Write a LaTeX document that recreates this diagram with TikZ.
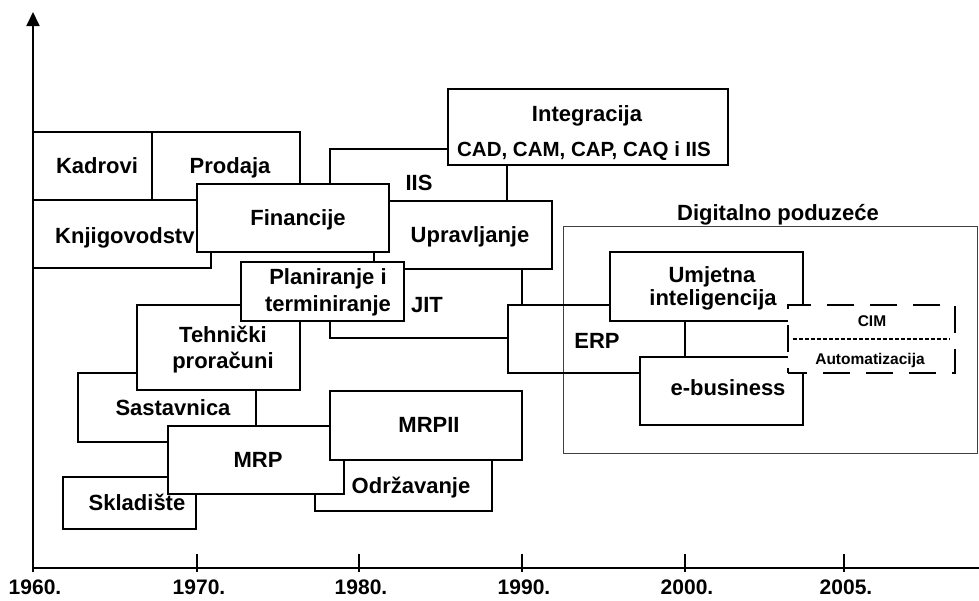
\documentclass[tikz,border=0pt]{standalone}
\usepackage{fontspec}
\setmainfont{Liberation Sans}
\usetikzlibrary{fit,arrows.meta}
\begin{document}
\begin{tikzpicture}[x=1pt,y=-1pt,
  box/.style={draw, line width=1.8pt, fill=white, inner sep=0pt, outer sep=0pt},
  frame/.style={draw=black!75, line width=1pt, inner sep=0pt, outer sep=0pt},
  dbox/.style={draw, line width=1.8pt, fill=white, inner sep=0pt, outer sep=0pt, dash pattern=on 27pt off 16pt, dash phase=8pt},
  lbl/.style={font=\fontsize{22}{26}\selectfont\bfseries, inner sep=0pt, anchor=base},
  yearl/.style={font=\fontsize{21}{24}\selectfont\bfseries, inner sep=0pt, anchor=base},
  sml/.style={font=\fontsize{20.5}{24}\selectfont\bfseries, inner sep=0pt, anchor=base},
  tinyl/.style={font=\fontsize{15.5}{18}\selectfont\bfseries, inner sep=0pt, anchor=base},
  conn/.style={line width=1.8pt},
  axisl/.style={line width=1.8pt},
  finedash/.style={line width=1.2pt, dash pattern=on 4pt off 2pt}
]
\useasboundingbox (0,0) rectangle (979,600);

% axes
\coordinate (o) at (33,572);
\coordinate (ytop) at (33,12);
\coordinate (xo) at (33,568);
\coordinate (xend) at (979,568);
\draw[axisl, -{Triangle[width=13pt,length=14pt]}] (o) -- (ytop);
\draw[axisl] (xo) -- (xend);
\foreach \x/\yr in {33/1960, 197/1970, 359/1980, 522/1990, 685/2000, 844/2005}{
  \draw[axisl] (\x,554) -- (\x,572);
  \node[yearl] at (\x+2,594) {\yr.};
}

% boxes, back to front
\node[box, fit={(33,132) (152,200)}] (kad) {};
\node[lbl] at (97,173) {Kadrovi};
\node[box, fit={(152,132) (300,200)}] (prod) {};
\node[lbl] at (230,173) {Prodaja};
\node[box, fit={(33,200) (211,268)}] (knj) {};
\node[lbl, anchor=base west] at (55,243) {Knjigovodstv};

\node[box, fit={(374,201) (552,269)}] (upr) {};
\node[lbl] at (470,242) {Upravljanje};
\node[box, fit={(197,184) (389,252)}] (fin) {};
\node[lbl] at (298,225) {Financije};

\node[box, fit={(78,373) (256,442)}] (sast) {};
\node[lbl] at (173,415) {Sastavnica};
\node[box, fit={(137,305) (300,390)}] (teh) {};
\node[lbl] at (223,342) {Tehnički};
\node[lbl] at (223,368) {proračuni};
\node[box, fit={(241,262) (404,321)}] (plan) {};
\node[lbl] at (328,284) {Planiranje i};
\node[lbl] at (328,311) {terminiranje};

\node[box, fit={(63,477) (196,529)}] (skl) {};
\node[lbl] at (137,510) {Skladište};
\node[box, fit={(315,440) (492,511)}] (odr) {};
\node[lbl] at (411,493) {Održavanje};
\node[box, fit={(168,426) (344,494)}] (mrp) {};
\node[lbl] at (258,467) {MRP};
\node[box, fit={(330,391) (522,460)}] (mrp2) {};
\node[lbl] at (429,432) {MRPII};

\node[box, fit={(448,89) (728,165)}] (integ) {};
\node[lbl] at (587,121) {Integracija};
\node[sml] at (584,156) {CAD, CAM, CAP, CAQ i IIS};

% labels of the open areas
\node[lbl] (iis) at (419,190) {IIS};
\node[lbl] (jit) at (427,312) {JIT};
\node[lbl] (erp) at (597,348) {ERP};

% Digitalno poduzece
\node[frame, fit={(563,226) (977,453)}] (dig) {};
\node[lbl] at (778,220) {Digitalno poduzeće};
\node[box, fit={(610,252) (803,321)}] (umj) {};
\node[lbl] at (712,282) {Umjetna};
\node[lbl] at (713,305) {inteligencija};
\node[box, fit={(640,357) (803,425)}] (ebus) {};
\node[lbl] at (728,395) {e-business};
\node[dbox, fit={(788,305) (955,373)}] (cim) {};
\node[tinyl] at (872,326) {CIM};
\node[tinyl] at (870,364) {Automatizacija};
\draw[finedash] ([xshift=5pt]cim.west) -- ([xshift=-5pt]cim.east);

% connectors
\coordinate (iisTL) at (330,149);
\coordinate (iisR) at (507,201);
\coordinate (erpJ) at (522,305);
\coordinate (iisBL) at (330,338);
\coordinate (erpL) at (508,338);
\coordinate (erpTL) at (508,305);
\coordinate (erpBL) at (508,373);
\coordinate (ue) at (685,340);
\draw[conn] (integ.west |- iisTL) -- (iisTL) -- (iisTL |- fin.north);
\draw[conn] (integ.south -| iisR) -- (iisR);
\draw[conn] (upr.south -| erpJ) -- (erpJ);
\draw[conn] (plan.south -| iisBL) -- (iisBL) -- (erpL);
\draw[conn] (umj.west |- erpTL) -- (erpTL) -- (erpBL) -- (ebus.west |- erpBL);
\draw[conn] (umj.south -| ue) -- (ebus.north -| ue);
\end{tikzpicture}
\end{document}
